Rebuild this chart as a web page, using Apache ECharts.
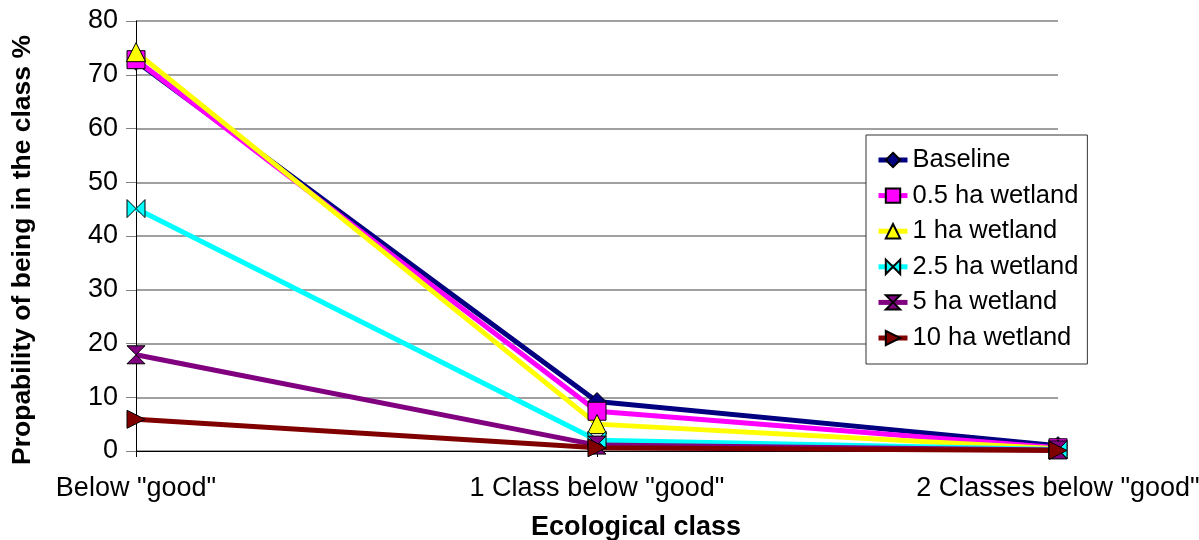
<!DOCTYPE html>
<html>
<head>
<meta charset="utf-8">
<script src="https://cdn.jsdelivr.net/npm/echarts@6/dist/echarts.min.js"></script>
<style>
  html, body { margin: 0; padding: 0; background: #fff; }
  #chart { width: 1199px; height: 540px; }
</style>
</head>
<body>
<div id="chart"></div>
<script>
// Ecological class categories along the x axis
const categories = ['Below "good"', '1 Class below "good"', '2 Classes below "good"'];

// Probability (%) of being in each class, per scenario
const baseline   = [72.5, 9.2, 1.0];
const wetland0_5 = [72.8, 7.4, 0.6];
const wetland1   = [74.2, 5.0, 0.4];
const wetland2_5 = [45.1, 2.0, 0.3];
const wetland5   = [17.9, 1.1, 0.2];
const wetland10  = [5.9, 0.6, 0.1];

const seriesNames = ['Baseline', '0.5 ha wetland', '1 ha wetland', '2.5 ha wetland', '5 ha wetland', '10 ha wetland'];
const yTicks = { min: 0, max: 80, interval: 10 };

const FONT = '"Liberation Sans", Arial, sans-serif';

// Marker shapes for each scenario
const BOWTIE = 'path://M0,0 L10,5 L0,10 Z M20,0 L10,5 L20,10 Z';
const HOURGLASS = 'path://M0,0 L10,0 L5,5 Z M0,10 L10,10 L5,5 Z';
const RIGHT_TRI = 'path://M0,0 L10,5 L0,10 Z';

const styles = [
  { color: '#000080', symbol: 'diamond', size: 18 },
  { color: '#ff00ff', symbol: 'rect', size: 18 },
  { color: '#ffff00', symbol: 'triangle', size: 19 },
  { color: '#00ffff', symbol: BOWTIE, size: [18, 18] },
  { color: '#800080', symbol: HOURGLASS, size: [18, 18] },
  { color: '#800000', symbol: RIGHT_TRI, size: [18, 18] }
];
const values = [baseline, wetland0_5, wetland1, wetland2_5, wetland5, wetland10];

const series = values.map((v, i) => ({
  name: seriesNames[i],
  type: 'line',
  data: v,
  symbol: styles[i].symbol,
  symbolSize: styles[i].size,
  showAllSymbol: true,
  lineStyle: { color: styles[i].color, width: 5 },
  itemStyle: { color: styles[i].color, borderColor: '#000', borderWidth: 1 },
  emphasis: { disabled: true },
  animation: false
}));

const chart = echarts.init(document.getElementById('chart'));
chart.setOption({
  animation: false,
  backgroundColor: '#fff',
  grid: { left: 136, right: 141, top: 21, bottom: 89, containLabel: false, outerBoundsMode: 'none' },
  legend: {
    orient: 'vertical',
    left: 866,
    top: 135,
    padding: [12, 9, 13, 10],
    backgroundColor: '#fff',
    borderColor: '#333',
    borderWidth: 1,
    itemWidth: 29,
    itemHeight: 18,
    itemGap: 9.6,
    lineStyle: { width: 5 },
    textStyle: { fontFamily: FONT, fontSize: 25.5, color: '#000', lineHeight: 26 },
    data: seriesNames
  },
  xAxis: {
    type: 'category',
    data: categories,
    boundaryGap: false,
    axisLine: { lineStyle: { color: '#000', width: 1 } },
    axisTick: { show: true, length: 6, alignWithLabel: true, lineStyle: { color: '#000' } },
    axisLabel: { fontFamily: FONT, fontSize: 27, color: '#000', margin: 24, interval: 0 },
    splitLine: { show: false },
    name: 'Ecological class',
    nameLocation: 'middle',
    nameGap: 63,
    nameTextStyle: { fontFamily: FONT, fontSize: 27, fontWeight: 'bold', color: '#000', padding: [0, 0, 0, 78] }
  },
  yAxis: {
    type: 'value',
    min: yTicks.min,
    max: yTicks.max,
    interval: yTicks.interval,
    axisLine: { show: true, lineStyle: { color: '#000', width: 1 } },
    axisTick: { show: true, length: 10, lineStyle: { color: '#808080', width: 1 } },
    axisLabel: { fontFamily: FONT, fontSize: 27, color: '#000', margin: 18 },
    splitLine: { show: true, lineStyle: { color: '#808080', width: 1.5 } },
    name: 'Propability of being in the class %',
    nameLocation: 'middle',
    nameGap: 100,
    nameTextStyle: { fontFamily: FONT, fontSize: 26.5, fontWeight: 'bold', color: '#000', padding: [0, 28, 0, 0] }
  },
  series: series
});
</script>
</body>
</html>
